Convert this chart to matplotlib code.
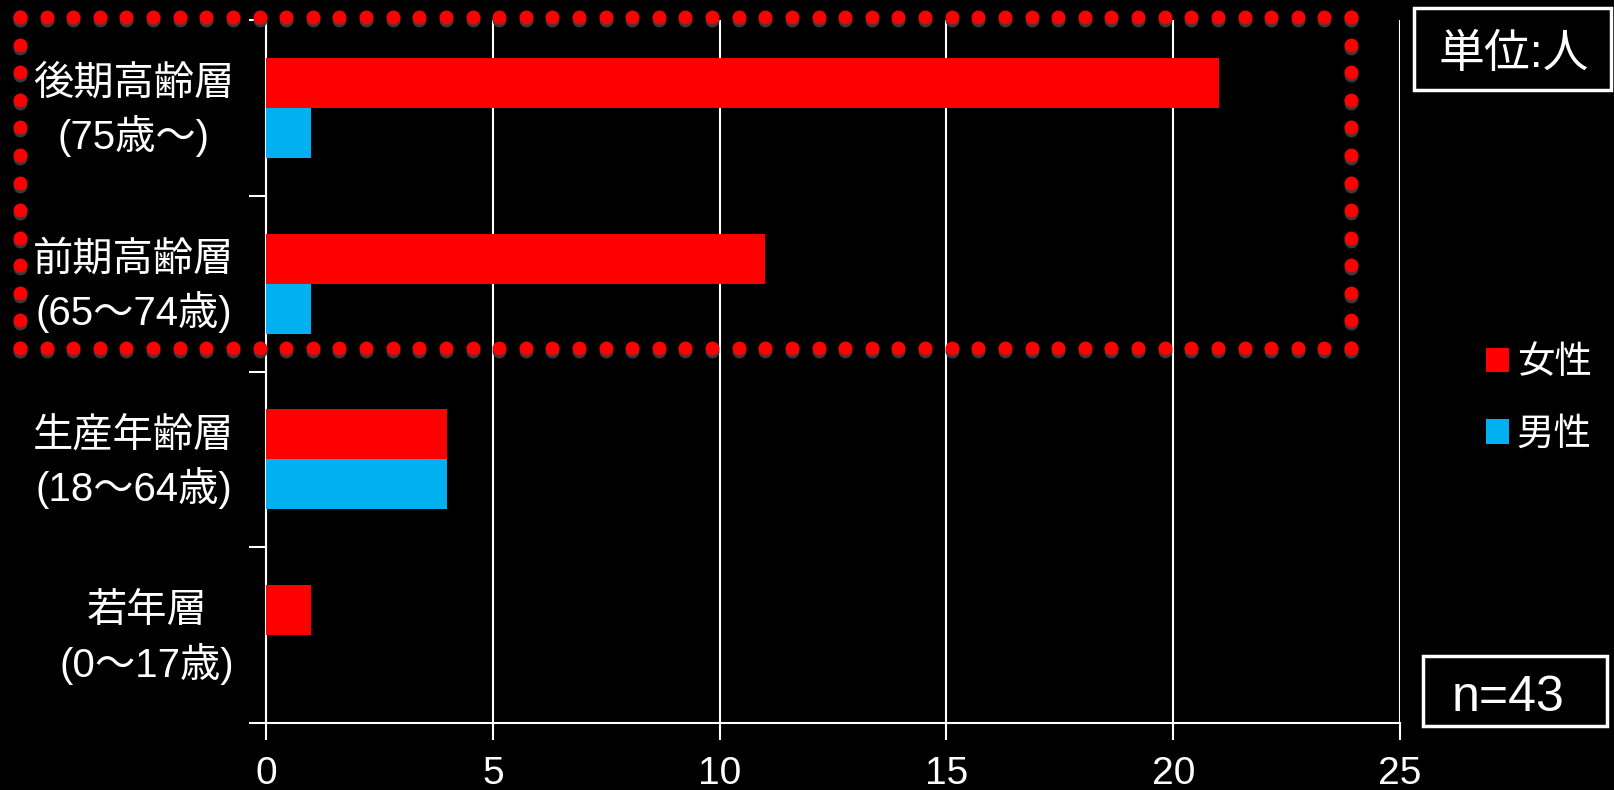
import numpy as np
import matplotlib.pyplot as plt
import matplotlib.transforms as mtransforms
from matplotlib.lines import Line2D
from matplotlib.patches import Rectangle

plt.rcParams['font.family'] = ['Liberation Sans', 'Noto Sans CJK JP', 'DejaVu Sans']

# age groups, bottom to top
groups = ['若年層\n(0～17歳)', '生産年齢層\n(18～64歳)', '前期高齢層\n(65～74歳)', '後期高齢層\n(75歳～)']
female = [1, 4, 11, 21]
male = [0, 4, 1, 1]
series_names = ['女性', '男性']
colors = ['#FF0000', '#00B0F0']
xticks = [0, 5, 10, 15, 20, 25]

W, H = 1615, 790
fig = plt.figure(figsize=(W / 100, H / 100), dpi=100, facecolor='black')
ax = fig.add_axes([266 / W, 1 - 723 / H, (1400 - 266) / W, (723 - 20) / H])
ax.set_facecolor('black')

y = np.arange(len(groups))
h = 0.285
ax.barh(y + h / 2, female, height=h, color=colors[0], label=series_names[0], zorder=3)
ax.barh(y - h / 2, male, height=h, color=colors[1], label=series_names[1], zorder=3)

ax.set_xlim(0, 25)
ax.set_ylim(-0.5, len(groups) - 0.5)
ax.set_xticks(xticks)
ax.grid(axis='x', color='white', linewidth=1.5, zorder=1)

# category boundaries get the tick marks, labels sit at the centres
ax.set_yticks(np.arange(-0.5, len(groups), 1.0))
ax.set_yticklabels([])
ax.set_yticks(y, minor=True)
ax.set_yticklabels(groups, minor=True, fontsize=29, color='white',
                   linespacing=1.37, multialignment='center')
ax.tick_params(axis='y', which='major', length=12, width=1.5, color='white')
ax.tick_params(axis='y', which='minor', length=0, pad=23)
ax.tick_params(axis='x', length=12, width=1.5, color='white', labelcolor='white',
               labelsize=28, pad=12)
lift = mtransforms.ScaledTranslation(0, 5 / 72, fig.dpi_scale_trans)
for lbl in ax.get_yticklabels(minor=True):
    lbl.set_transform(lbl.get_transform() + lift)

for side in ['top', 'right']:
    ax.spines[side].set_visible(False)
for side in ['left', 'bottom']:
    ax.spines[side].set_color('white')
    ax.spines[side].set_linewidth(1.5)

leg = ax.legend(loc='center left', bbox_to_anchor=(1486 / W, 1 - 399 / H),
                bbox_transform=fig.transFigure, frameon=False, fontsize=27,
                labelcolor='white', handlelength=0.62, handleheight=0.62,
                handletextpad=0.2, labelspacing=0.95,
                borderpad=0, borderaxespad=0)

# dotted highlight around the two elderly groups
def dot_side(x0, y0, x1, y1, step=26.7):
    n = max(int(round(np.hypot(x1 - x0, y1 - y0) / step)), 1)
    t = np.linspace(0, 1, n + 1)
    return x0 + (x1 - x0) * t, y0 + (y1 - y0) * t

x_l, x_r, y_t, y_b = 20, 1351, 17, 348
xs, ys = [], []
for seg in [(x_l, y_t, x_r, y_t), (x_r, y_t, x_r, y_b),
            (x_r, y_b, x_l, y_b), (x_l, y_b, x_l, y_t)]:
    sx, sy = dot_side(*seg)
    xs.append(sx)
    ys.append(sy)
xs = np.concatenate(xs)
ys = np.concatenate(ys)
fig.add_artist(Line2D(xs / W, 1 - (ys + 3) / H, transform=fig.transFigure,
                      linestyle='none', marker='o', markersize=10,
                      color='#3a3a3a', markeredgewidth=0, zorder=9))
fig.add_artist(Line2D(xs / W, 1 - ys / H, transform=fig.transFigure,
                      linestyle='none', marker='o', markersize=10,
                      color='#FF0000', markeredgewidth=0, zorder=10))

# unit box and sample size box
fig.add_artist(Rectangle((1414 / W, 1 - 90 / H), (1611 - 1414) / W, (90 - 8) / H,
                         transform=fig.transFigure, fill=False,
                         edgecolor='white', linewidth=2.5))
fig.text(1514 / W, 1 - 55 / H, '単位:人', color='white', fontsize=33,
         ha='center', va='center')
fig.add_artist(Rectangle((1423 / W, 1 - 726 / H), (1607 - 1423) / W, (726 - 656) / H,
                         transform=fig.transFigure, fill=False,
                         edgecolor='white', linewidth=2.5))
fig.text(1508 / W, 1 - 698 / H, 'n=43', color='white', fontsize=36,
         ha='center', va='center')

fig.savefig('out.png', dpi=100, facecolor='black')
